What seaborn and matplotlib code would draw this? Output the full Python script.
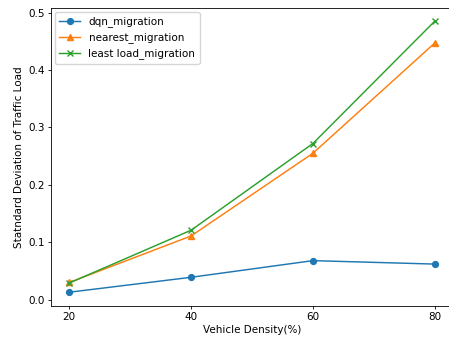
import matplotlib
matplotlib.use('Agg')
import matplotlib.pyplot as plt
import seaborn as sns
import pandas as pd

density = [20, 40, 60, 80]
dqn_migration = [0.013, 0.039, 0.068, 0.062]
nearest_migration = [0.030, 0.111, 0.255, 0.447]
least_load_migration = [0.029, 0.121, 0.272, 0.485]

series = [
    ('dqn_migration', dqn_migration, 'o', '#1f77b4'),
    ('nearest_migration', nearest_migration, '^', '#ff7f0e'),
    ('least load_migration', least_load_migration, 'x', '#2ca02c'),
]

plt.rcParams['font.family'] = ['DejaVu Sans']
plt.rcParams['font.size'] = 7.5

fig = plt.figure(figsize=(4.49, 3.41), dpi=100)
ax = fig.add_axes([51 / 449, 35 / 341, 402 / 449, 298 / 341])

for name, vals, mk, col in series:
    df = pd.DataFrame({'x': density, 'y': vals})
    sns.lineplot(data=df, x='x', y='y', ax=ax, marker=mk, color=col, label=name,
                 linewidth=1.05, markersize=4.2, markeredgecolor=col, mew=1)

ax.set_xticks(density)
ax.set_yticks([0.0, 0.1, 0.2, 0.3, 0.4, 0.5])
ax.set_xlim(17, 83)
ax.set_ylim(-0.011, 0.508)
ax.set_xlabel('Vehicle Density(%)', fontsize=7.5, labelpad=2)
ax.set_ylabel('Statndard Deviation of Traffic Load', fontsize=7.5, labelpad=3)
ax.tick_params(labelsize=7.5, length=2.5, width=0.6, pad=2)
for s in ax.spines.values():
    s.set_linewidth(0.6)
# the right edge is cut off in the original image
ax.spines['right'].set_visible(False)
ax.legend(loc='upper left', fontsize=7.5, handlelength=2, borderaxespad=0.4)

fig.savefig('out.png', dpi=100)
